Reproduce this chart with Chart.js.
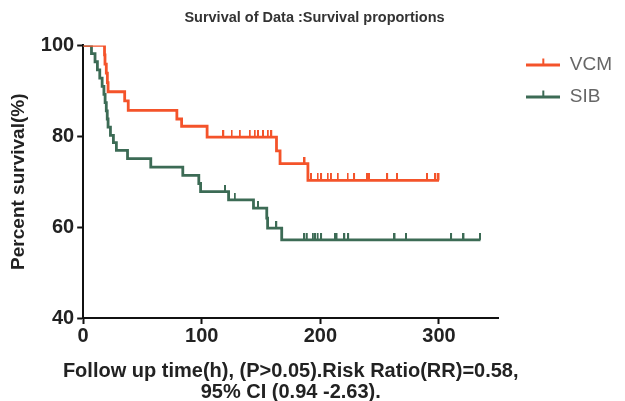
<!DOCTYPE html>
<html>
<head>
<meta charset="utf-8">
<script src="https://cdn.jsdelivr.net/npm/chart.js@4"></script>
<style>
  html, body { margin: 0; padding: 0; background: #fff; }
  #wrap { width: 625px; height: 401px; }
</style>
</head>
<body>
<div id="wrap"><canvas id="survivalChart"></canvas></div>
<script>
// Kaplan-Meier steps (time in h, survival in %)
const vcmTime = [0, 18, 18.4, 19.5, 20.4, 21, 35, 38, 79, 83, 104.5, 163, 166, 189.5, 300];
const vcmSurv = [100, 97.9, 95.9, 93.9, 91.8, 89.8, 87.8, 85.7, 83.8, 82.2, 79.8, 76.8, 74.0, 70.3, 70.3];
const vcmCensor = [118.5, 125.5, 132.4, 140.8, 145, 147.8, 152, 156, 159, 187,
  192.5, 198, 201, 206.5, 209.3, 215, 223.3, 228.8, 240, 241.4, 256.7, 265, 290.3, 297.3, 300];

const sibTime = [0, 7, 10, 12, 14, 16, 17.5, 18.5, 19.5, 20.3, 21, 23, 25.5, 28, 37.4, 57, 84, 97.5, 99,
  122.6, 143.6, 154.8, 155.5, 167.4, 335];
const sibSurv = [100, 98.2, 96.4, 94.6, 92.8, 91.0, 89.2, 87.4, 85.6, 83.8, 82.0, 80.2, 78.6, 76.9, 75.1,
  73.2, 71.4, 69.6, 67.8, 66.0, 64.2, 62.0, 59.8, 57.2, 57.2];
const sibCensor = [120, 128.2, 147.8, 163.2, 186.9, 188.9, 194, 196.1, 198, 201, 212.9, 214, 220.5,
  223.8, 262.9, 272.6, 310.6, 321, 335];

const groupLabels = ["VCM", "SIB"];
const yTicks = [40, 60, 80, 100];
const xTicks = [0, 100, 200, 300];

const ORANGE = "#f4532a";
const GREEN = "#3c6b55";
const LEGEND_EXTRA = 15; // extra room between plot and legend
const XTITLE_OVERHANG = 30; // x title may run past the plot edges

// level of the step curve at a given time
function levelAt(times, surv, t) {
    let s = surv[0];
    for (let i = 0; i < times.length; i++) {
        if (times[i] <= t) s = surv[i];
    }
    return s;
}

// censor mark: short vertical tick sitting on top of the curve
function tickMark(color) {
    const c = document.createElement("canvas");
    c.width = 3;
    c.height = 14;
    const g = c.getContext("2d");
    g.fillStyle = color;
    g.fillRect(0, 0, 2, 7);
    return c;
}

function legendMark(color) {
    const c = document.createElement("canvas");
    c.width = 34;
    c.height = 14;
    const g = c.getContext("2d");
    g.fillStyle = color;
    g.fillRect(0, 6, 34, 3);
    g.fillRect(16, 1, 2, 6);
    return c;
}

const curve = (times, surv) => times.map((t, i) => ({ x: t, y: surv[i] }));
const marks = (times, surv, cens) => cens.map((t) => ({ x: t, y: levelAt(times, surv, t) }));

// widen the legend box on its left side so the plot ends where the reference does,
// and let the long x title use more than the plot width
const layoutTweaks = {
    id: "layoutTweaks",
    afterInit(chart) {
        const lg = chart.legend;
        const fit = lg.fit;
        lg.fit = function () {
            fit.call(this);
            this.width += LEGEND_EXTRA;
        };
    },
    afterLayout(chart) {
        chart.legend.left += LEGEND_EXTRA;
        const xs = chart.scales.x;
        if (!xs._wideTitle) {
            const drawTitle = xs.drawTitle;
            xs.drawTitle = function () {
                const l = this.left, r = this.right;
                this.left = l - XTITLE_OVERHANG;
                this.right = r + XTITLE_OVERHANG;
                drawTitle.call(this);
                this.left = l;
                this.right = r;
            };
            xs._wideTitle = true;
        }
    },
};

const ctx = document.getElementById("survivalChart").getContext("2d");

new Chart(ctx, {
    type: "line",
    plugins: [layoutTweaks],
    data: {
        datasets: [
            {
                label: groupLabels[0],
                data: curve(vcmTime, vcmSurv),
                borderColor: ORANGE,
                backgroundColor: ORANGE,
                borderWidth: 2.8,
                stepped: true,
                pointRadius: 0,
                legendMark: legendMark(ORANGE),
            },
            {
                label: groupLabels[1],
                data: curve(sibTime, sibSurv),
                borderColor: GREEN,
                backgroundColor: GREEN,
                borderWidth: 2.8,
                stepped: true,
                pointRadius: 0,
                legendMark: legendMark(GREEN),
            },
            {
                label: "VCM censored",
                data: marks(vcmTime, vcmSurv, vcmCensor),
                showLine: false,
                pointStyle: tickMark(ORANGE),
                censor: true,
            },
            {
                label: "SIB censored",
                data: marks(sibTime, sibSurv, sibCensor),
                showLine: false,
                pointStyle: tickMark(GREEN),
                censor: true,
            },
        ],
    },
    options: {
        responsive: true,
        maintainAspectRatio: false,
        animation: false,
        events: [],
        layout: {
            padding: { left: 7, right: 3, top: 4, bottom: 0 },
        },
        plugins: {
            title: {
                display: true,
                text: "Survival of Data :Survival proportions",
                color: "#333",
                font: { family: "Liberation Sans", size: 14.5, weight: "bold" },
                padding: { top: 5, bottom: 19 },
            },
            legend: {
                position: "right",
                align: "start",
                title: {
                    display: true,
                    text: " ",
                    font: { size: 10, lineHeight: 1 },
                    padding: { top: 28, bottom: 0 },
                },
                labels: {
                    usePointStyle: true,
                    pointStyleWidth: 34,
                    padding: 13,
                    color: "#222",
                    font: { family: "Liberation Sans", size: 19 },
                    generateLabels: function (chart) {
                        return chart.data.datasets
                            .map((ds, i) => ({ ds, i }))
                            .filter(({ ds }) => !ds.censor)
                            .map(({ ds, i }) => ({
                                text: ds.label,
                                pointStyle: ds.legendMark,
                                fillStyle: ds.borderColor,
                                strokeStyle: ds.borderColor,
                                lineWidth: 0,
                                hidden: false,
                                datasetIndex: i,
                            }));
                    },
                },
            },
            tooltip: { enabled: false },
        },
        scales: {
            x: {
                type: "linear",
                min: 0,
                max: 350,
                afterBuildTicks: (axis) => {
                    axis.ticks = xTicks.map((v) => ({ value: v }));
                },
                grid: {
                    drawOnChartArea: false,
                    drawTicks: true,
                    tickLength: 6,
                    tickWidth: 2,
                    tickColor: "#111",
                },
                border: { color: "#111", width: 2 },
                ticks: {
                    color: "#222",
                    padding: 0,
                    maxRotation: 0,
                    font: { family: "Liberation Sans", size: 20, weight: "bold" },
                },
                title: {
                    display: true,
                    text: [
                        "Follow up time(h), (P>0.05).Risk Ratio(RR)=0.58,",
                        "95% CI (0.94 -2.63).",
                    ],
                    color: "#222",
                    font: { family: "Liberation Sans", size: 20, weight: "bold", lineHeight: 1.05 },
                    padding: { top: 13, bottom: -2 },
                },
            },
            y: {
                min: 40,
                max: 100,
                afterBuildTicks: (axis) => {
                    axis.ticks = yTicks.map((v) => ({ value: v }));
                },
                grid: {
                    drawOnChartArea: false,
                    drawTicks: true,
                    tickLength: 6,
                    tickWidth: 2,
                    tickColor: "#111",
                },
                border: { color: "#111", width: 2 },
                ticks: {
                    color: "#222",
                    padding: 3,
                    font: { family: "Liberation Sans", size: 20, weight: "bold" },
                },
                title: {
                    display: true,
                    text: "Percent survival(%)",
                    color: "#222",
                    font: { family: "Liberation Sans", size: 19, weight: "bold" },
                    padding: { top: 0, bottom: 8 },
                },
            },
        },
    },
});
</script>
</body>
</html>
